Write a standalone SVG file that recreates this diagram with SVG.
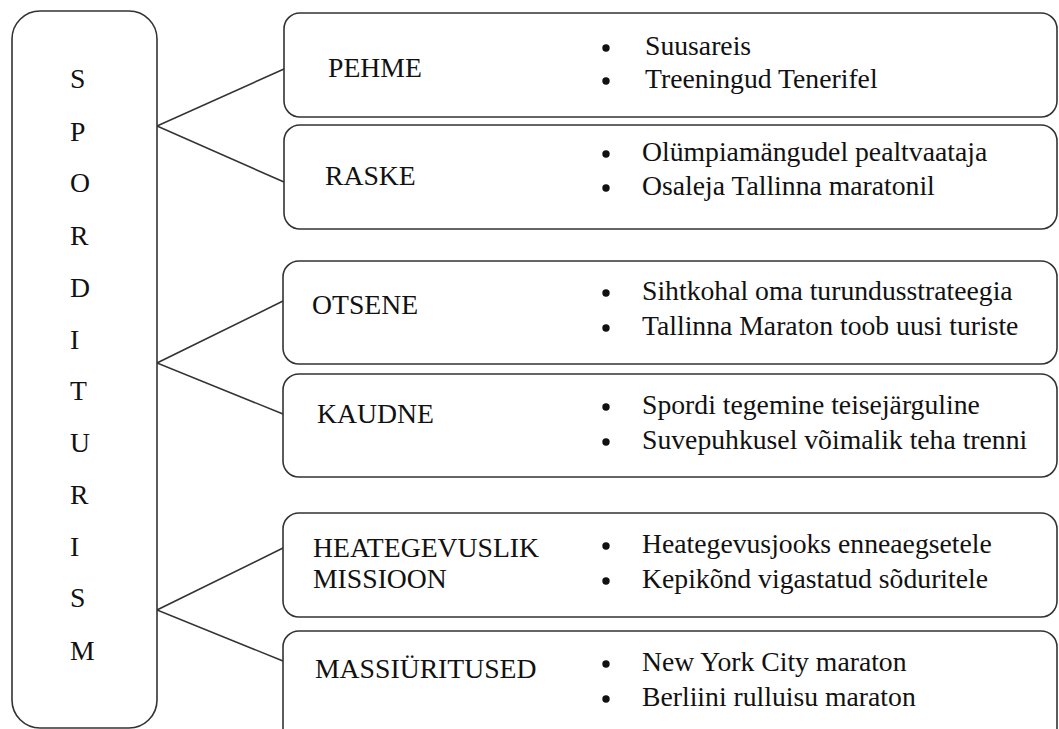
<svg xmlns="http://www.w3.org/2000/svg" width="1059" height="729" viewBox="0 0 1059 729">
<style>
.box{fill:#fff;stroke:#333;stroke-width:1.6}
.t{font-family:"Liberation Serif","Times New Roman",serif;font-size:27.7px;fill:#111}
.c{stroke:#333;stroke-width:1.6;fill:none}
.b{fill:#111}
</style>
<rect width="1059" height="729" fill="#fff"/>
<g id="connectors">
<polyline class="c" points="284,69 157,126 284,182"/>
<polyline class="c" points="283,301 157,363 283,414"/>
<polyline class="c" points="283,548 157,610 283,661"/>
</g>
<g id="sporditurism">
<rect class="box" x="12" y="11" width="145" height="717" rx="28"/>
<text class="t" x="70" y="88">S</text>
<text class="t" x="70" y="141">P</text>
<text class="t" x="70" y="192">O</text>
<text class="t" x="70" y="245">R</text>
<text class="t" x="70" y="297">D</text>
<text class="t" x="70" y="349">I</text>
<text class="t" x="70" y="400">T</text>
<text class="t" x="70" y="452">U</text>
<text class="t" x="70" y="504">R</text>
<text class="t" x="70" y="556">I</text>
<text class="t" x="70" y="607">S</text>
<text class="t" x="70" y="660">M</text>
</g>
<g id="pehme">
<rect class="box" x="284" y="13" width="773" height="104" rx="16"/>
<text class="t" x="328" y="77">PEHME</text>
<circle class="b" cx="606" cy="48" r="3.7"/><text class="t" x="645" y="55">Suusareis</text>
<circle class="b" cx="606" cy="81" r="3.7"/><text class="t" x="645" y="88">Treeningud Tenerifel</text>
</g>
<g id="raske">
<rect class="box" x="284" y="125" width="773" height="104" rx="16"/>
<text class="t" x="325" y="185">RASKE</text>
<circle class="b" cx="606" cy="154" r="3.7"/><text class="t" x="642" y="161">Olümpiamängudel pealtvaataja</text>
<circle class="b" cx="606" cy="188" r="3.7"/><text class="t" x="642" y="195">Osaleja Tallinna maratonil</text>
</g>
<g id="otsene">
<rect class="box" x="283" y="261" width="774" height="103" rx="16"/>
<text class="t" x="312" y="314">OTSENE</text>
<circle class="b" cx="606" cy="293" r="3.7"/><text class="t" x="642" y="300">Sihtkohal oma turundusstrateegia</text>
<circle class="b" cx="606" cy="328" r="3.7"/><text class="t" x="642" y="335">Tallinna Maraton toob uusi turiste</text>
</g>
<g id="kaudne">
<rect class="box" x="283" y="374" width="774" height="103" rx="16"/>
<text class="t" x="317" y="423">KAUDNE</text>
<circle class="b" cx="606" cy="407" r="3.7"/><text class="t" x="642" y="414">Spordi tegemine teisejärguline</text>
<circle class="b" cx="606" cy="442" r="3.7"/><text class="t" x="642" y="449">Suvepuhkusel võimalik teha trenni</text>
</g>
<g id="heategevuslik">
<rect class="box" x="283" y="513" width="774" height="104" rx="16"/>
<text class="t" x="313" y="557">HEATEGEVUSLIK</text>
<text class="t" x="313" y="588">MISSIOON</text>
<circle class="b" cx="606" cy="546" r="3.7"/><text class="t" x="642" y="553">Heategevusjooks enneaegsetele</text>
<circle class="b" cx="606" cy="581" r="3.7"/><text class="t" x="642" y="588">Kepikõnd vigastatud sõduritele</text>
</g>
<g id="massiuritused">
<rect class="box" x="283" y="631" width="774" height="114" rx="16"/>
<text class="t" x="315" y="678">MASSIÜRITUSED</text>
<circle class="b" cx="606" cy="664" r="3.7"/><text class="t" x="642" y="671">New York City maraton</text>
<circle class="b" cx="606" cy="699" r="3.7"/><text class="t" x="642" y="706">Berliini rulluisu maraton</text>
</g>
</svg>
